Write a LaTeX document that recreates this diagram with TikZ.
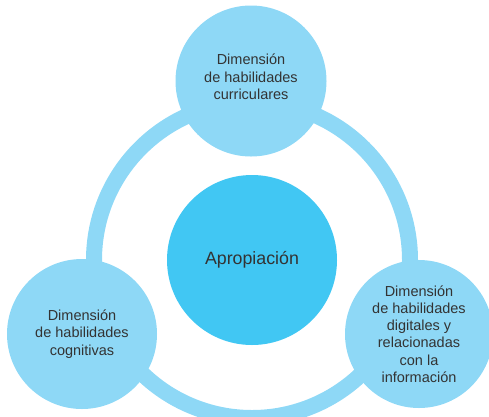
\documentclass[tikz,border=0pt]{standalone}
\usepackage{fontspec}
\setmainfont{Liberation Sans}
\usetikzlibrary{calc}
\definecolor{celeste}{HTML}{8ED8F6}
\definecolor{azul}{HTML}{41C7F3}
\definecolor{texto}{HTML}{333333}
\tikzset{
  dimension/.style={circle,fill=celeste,inner sep=0pt,text=texto,align=center,
    font=\fontsize{14.5}{17.3}\selectfont},
  nucleo/.style={circle,fill=azul,inner sep=0pt,minimum size=170pt,text=texto,
    font=\fontsize{17.8}{20}\selectfont}
	}

\begin{document}
\begin{tikzpicture}[x=1pt,y=-1pt]
%
\def\R{158}
\def\w{16pt}
%
\useasboundingbox (0,0) rectangle (489,416);
\coordinate(O)at(252,260);
%
\draw[celeste,line width=\w] (O) circle (\R);
%
\node[nucleo] (apro) at (O) {Apropiaci\'on};
\node[dimension,minimum size=151pt] (curr) at (251,81) {};
\node[texto,align=center,font=\fontsize{14.5}{17.3}\selectfont] (currtxt) at ($(curr)+(0,-4)$) {Dimensi\'on\\de habilidades\\curriculares};
\node[dimension,minimum size=150pt] (cogn) at (82,334) {Dimensi\'on\\de habilidades\\cognitivas};
\node[dimension,minimum size=148pt] (digi) at (419,334) {Dimensi\'on\\de habilidades\\digitales y\\relacionadas\\con la\\informaci\'on};
%
\end{tikzpicture}
\end{document}
